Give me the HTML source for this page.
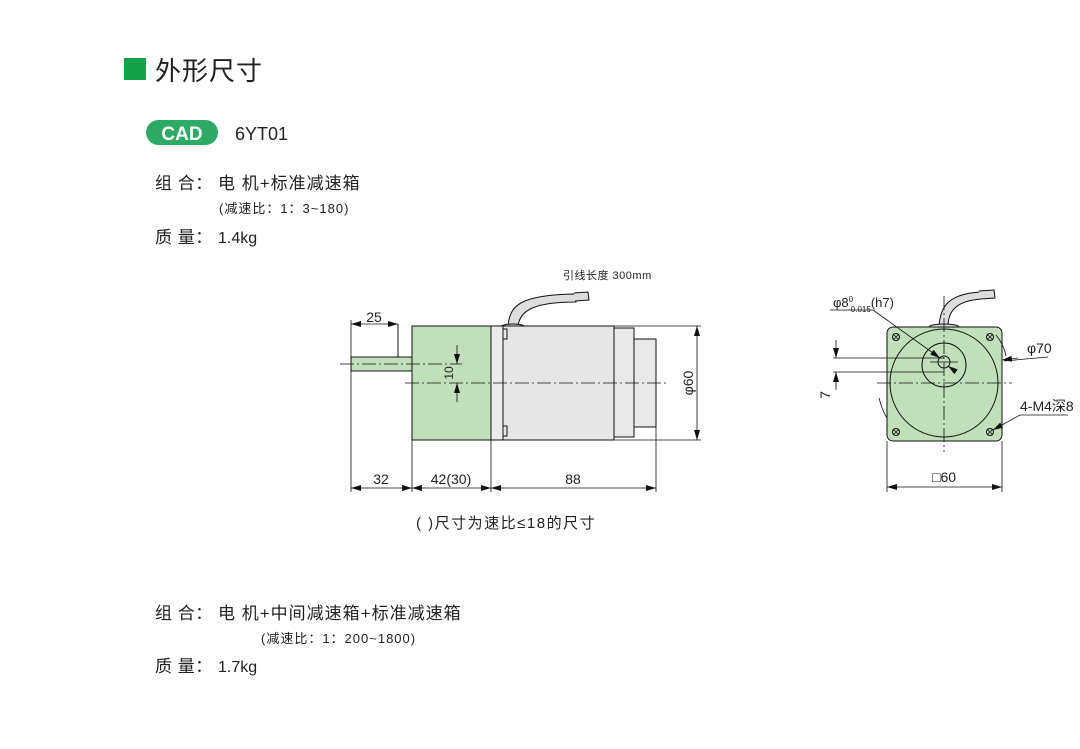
<!DOCTYPE html>
<html><head><meta charset="utf-8"><style>
html,body{margin:0;padding:0;background:#fff;}
svg{display:block;}
.t{font-family:"Liberation Sans","Noto Sans CJK SC",sans-serif;fill:#222;}
.n{font-family:"Liberation Sans Narrow","Liberation Sans","Noto Sans CJK SC",sans-serif;fill:#222;}
</style></head><body>
<svg width="1080" height="749" viewBox="0 0 1080 749" xmlns="http://www.w3.org/2000/svg">
<defs>
<marker id="a" viewBox="0 0 10 6" refX="10" refY="3" markerWidth="10" markerHeight="6" orient="auto-start-reverse" markerUnits="userSpaceOnUse"><path d="M0,0L10,3L0,6z" fill="#111"/></marker>
</defs>
<!-- header -->
<rect x="124" y="58" width="22" height="22" fill="#13a24a"/>
<text x="155" y="80" class="t" font-size="26" letter-spacing="1">外形尺寸</text>
<rect x="146" y="120" width="72" height="25" rx="12.5" fill="#2daa63"/>
<text x="182" y="140" class="t" font-size="19" font-weight="bold" style="fill:#fff" text-anchor="middle">CAD</text>
<text x="235" y="140" class="t" font-size="18">6YT01</text>
<text x="155" y="189" class="t" font-size="17" letter-spacing="0.5">组 合：</text>
<text x="218" y="189" class="t" font-size="17" letter-spacing="1">电 机+标准减速箱</text>
<text x="219" y="213" class="t" font-size="13" letter-spacing="1">(减速比：1：3~180)</text>
<text x="155" y="243" class="t" font-size="17" letter-spacing="0.5">质 量：</text>
<text x="218" y="243" class="t" font-size="16">1.4kg</text>

<text x="155" y="619" class="t" font-size="17" letter-spacing="0.5">组 合：</text>
<text x="218" y="619" class="t" font-size="17" letter-spacing="1">电 机+中间减速箱+标准减速箱</text>
<text x="261" y="643" class="t" font-size="13" letter-spacing="1">(减速比：1：200~1800)</text>
<text x="155" y="672" class="t" font-size="17" letter-spacing="0.5">质 量：</text>
<text x="218" y="672" class="t" font-size="16">1.7kg</text>

<text x="416" y="528" class="t" font-size="15" letter-spacing="1.5">( )尺寸为速比≤18的尺寸</text>
<text x="563" y="279" class="t" font-size="11" letter-spacing="0.5">引线长度 300mm</text>

<!-- side view -->
<g stroke="#111" stroke-width="1" fill="none">
<path d="M508,326 C510,305 520,295 575,294 L576,302 C535,302 520,310 518,326" fill="#ddd"/>
<path d="M574,293 L588,292 L589,300 L575,301" fill="#ddd"/>
<ellipse cx="513" cy="327" rx="12" ry="3" fill="#ddd"/>
<rect x="614" y="328" width="20" height="109" fill="#e8e8e8"/>
<rect x="634" y="339" width="22" height="88" fill="#e8e8e8"/>
<rect x="503" y="326" width="111" height="114" fill="#e6e6e6"/>
<rect x="491" y="326" width="12" height="114" fill="#ececec"/>
<rect x="412" y="326" width="79" height="114" fill="#bfe0b8"/>
<rect x="351" y="357" width="61" height="14" fill="#bfe0b8"/>
<line x1="398" y1="357" x2="398" y2="324"/>
<path d="M503,329 h4 v10 h-4 M503,426 h4 v10 h-4"/>
</g>
<g stroke="#111" stroke-width="0.8" fill="none">
<line x1="340" y1="364" x2="462" y2="364" stroke-dasharray="14,3,2,3"/>
<line x1="405" y1="383" x2="668" y2="383" stroke-dasharray="14,3,2,3"/>
<line x1="351" y1="324" x2="398" y2="324" marker-start="url(#a)" marker-end="url(#a)"/>
<line x1="351" y1="320" x2="351" y2="357"/>
<line x1="351" y1="371" x2="351" y2="492"/>
<line x1="412" y1="440" x2="412" y2="492"/>
<line x1="491" y1="440" x2="491" y2="492"/>
<line x1="656" y1="427" x2="656" y2="492"/>
<line x1="351" y1="488" x2="412" y2="488" marker-start="url(#a)" marker-end="url(#a)"/>
<line x1="412" y1="488" x2="491" y2="488" marker-start="url(#a)" marker-end="url(#a)"/>
<line x1="491" y1="488" x2="656" y2="488" marker-start="url(#a)" marker-end="url(#a)"/>
<line x1="614" y1="326" x2="701" y2="326"/>
<line x1="614" y1="440" x2="701" y2="440"/>
<line x1="697" y1="326" x2="697" y2="440" marker-start="url(#a)" marker-end="url(#a)"/>
<line x1="457" y1="345" x2="457" y2="364" marker-end="url(#a)"/>
<line x1="457" y1="402" x2="457" y2="383" marker-end="url(#a)"/>
</g>
<text x="374" y="322" class="n" font-size="14" text-anchor="middle">25</text>
<text x="381" y="484" class="n" font-size="14" text-anchor="middle">32</text>
<text x="451" y="484" class="n" font-size="14" text-anchor="middle">42(30)</text>
<text x="573" y="484" class="n" font-size="14" text-anchor="middle">88</text>
<text transform="translate(693,383) rotate(-90)" class="n" font-size="14" text-anchor="middle">φ60</text>
<text transform="translate(453,373) rotate(-90)" class="n" font-size="12" text-anchor="middle">10</text>

<!-- front view -->
<g stroke="#111" stroke-width="1" fill="none">
<path d="M939,327 C940,305 950,294 980,292 L981,299 C957,301 948,310 948,327" fill="#ddd"/>
<path d="M979,291 L994,290 L995,298 L980,299" fill="#ddd"/>
<ellipse cx="944" cy="327" rx="15" ry="3" fill="#ddd"/>
<rect x="887" y="327" width="115" height="114" rx="6" fill="#bfe0b8"/>
<circle cx="944" cy="383" r="54"/>
<circle cx="944" cy="365" r="22"/>
<circle cx="944" cy="362" r="6"/>
<g fill="#bfe0b8">
<circle cx="896" cy="337" r="3.5"/><circle cx="990" cy="337" r="3.5"/>
<circle cx="896" cy="432" r="3.5"/><circle cx="990" cy="432" r="3.5"/>
</g>
<path d="M893,334l6,6M899,334l-6,6M987,334l6,6M993,334l-6,6M893,429l6,6M899,429l-6,6M987,429l6,6M993,429l-6,6" stroke-width="0.8"/>
</g>
<g stroke="#111" stroke-width="0.8" fill="none">
<line x1="877" y1="383" x2="1012" y2="383" stroke-dasharray="14,3,2,3"/>
<line x1="944" y1="296" x2="944" y2="452" stroke-dasharray="14,3,2,3"/>
<line x1="930" y1="362" x2="958" y2="362"/>
<line x1="833" y1="358" x2="944" y2="358"/>
<line x1="833" y1="372" x2="944" y2="372"/>
<line x1="836" y1="340" x2="836" y2="358" marker-end="url(#a)"/>
<line x1="836" y1="390" x2="836" y2="372" marker-end="url(#a)"/>
<line x1="830" y1="310" x2="873" y2="310"/>
<line x1="873" y1="310" x2="940" y2="358" marker-end="url(#a)"/>
<line x1="948" y1="366" x2="955" y2="371" marker-start="url(#a)"/>
<line x1="1004" y1="361" x2="1048" y2="357"/>
<line x1="1018" y1="358" x2="1002" y2="360" marker-end="url(#a)"/>
<path d="M996,335 Q1004,345 1006,356"/>
<path d="M879,398 Q882,410 887,418"/>
<line x1="1020" y1="415" x2="1068" y2="415"/>
<line x1="1020" y1="415" x2="993" y2="430" marker-end="url(#a)"/>
<line x1="887" y1="441" x2="887" y2="492"/>
<line x1="1002" y1="441" x2="1002" y2="492"/>
<line x1="887" y1="487" x2="1002" y2="487" marker-start="url(#a)" marker-end="url(#a)"/>
</g>
<text x="833" y="307" class="n" font-size="13">φ8<tspan font-size="8" dy="-5">0</tspan><tspan font-size="8" dx="-5" dy="10">-0.015</tspan><tspan font-size="13" dy="-5">(h7)</tspan></text>
<text x="1027" y="353" class="n" font-size="14">φ70</text>
<text x="1020" y="411" class="n" font-size="14">4-M4深8</text>
<text x="944" y="482" class="n" font-size="14" text-anchor="middle">□60</text>
<text transform="translate(830,395) rotate(-90)" class="n" font-size="14" text-anchor="middle">7</text>
</svg>
</body></html>
